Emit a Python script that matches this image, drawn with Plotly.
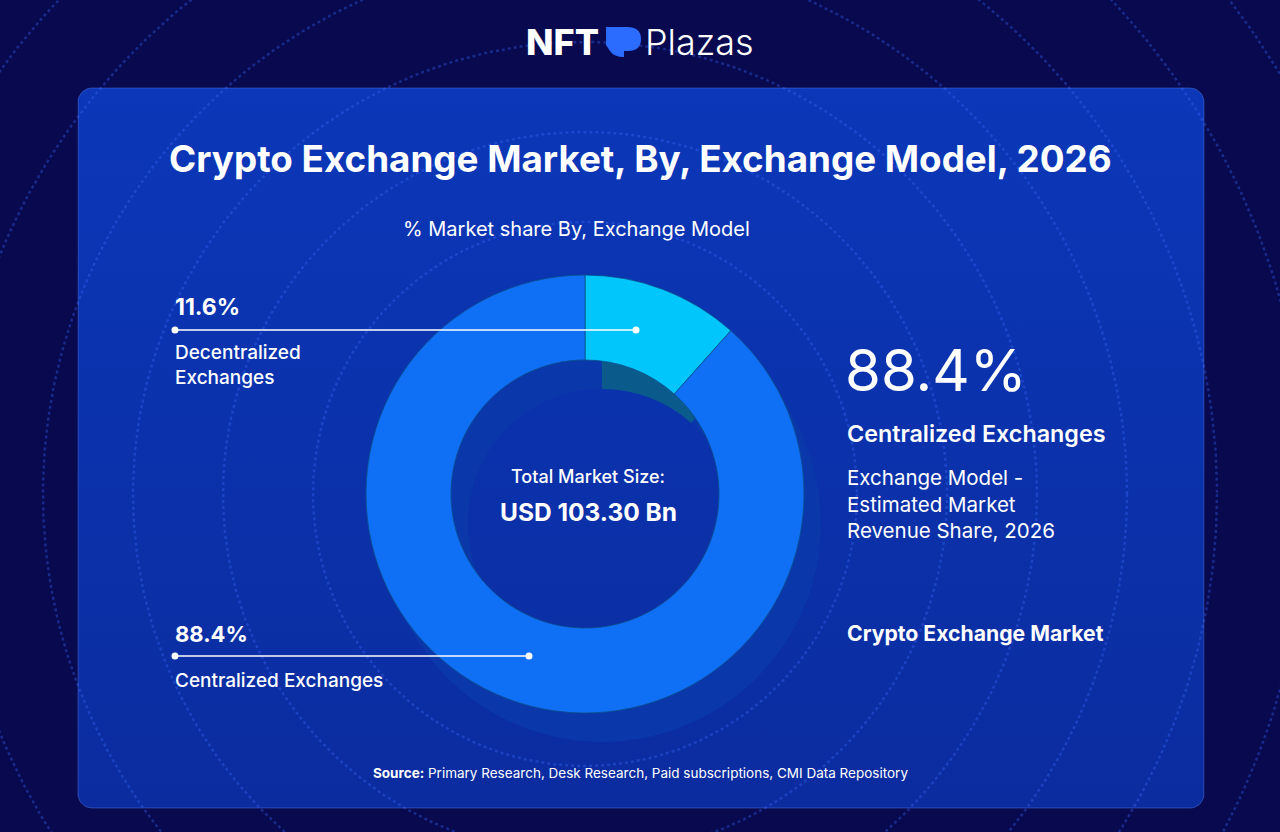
import numpy as np
import plotly.graph_objects as go

# ---- data ----
segments = ["Decentralized Exchanges", "Centralized Exchanges"]
shares = [11.6, 88.4]
total_size_bn = 103.30
year = 2026
slice_colors = ["#00c6fb", "#0f6ff5"]
depth_colors = ["#0b5a8c", "#0a37aa"]

W, H = 1280, 832
CX, CY, R = 585, 494, 219   # donut centre / radius in pixels
DX, DY = 17, 29             # extrusion offset
HOLE = 0.612

fig = go.Figure()

# card with vertical gradient
cx0, cy0, cx1, cy1, rr = 78, 88, 1204, 808, 14
t = np.linspace(0, np.pi / 2, 10)
px, py = [], []
for (ax, ay, a0) in [(cx1 - rr, cy0 + rr, -np.pi / 2), (cx1 - rr, cy1 - rr, 0),
                     (cx0 + rr, cy1 - rr, np.pi / 2), (cx0 + rr, cy0 + rr, np.pi)]:
    px += list(ax + rr * np.cos(a0 + t))
    py += list(ay + rr * np.sin(a0 + t))
px.append(px[0]); py.append(py[0])
fig.add_trace(go.Scatter(
    x=px, y=py, mode="lines", fill="toself",
    line=dict(color="rgba(110,150,255,0.35)", width=1),
    fillgradient=dict(type="vertical",
                      colorscale=[[0, "#0b2c9f"], [1, "#0b37b8"]]),
    hoverinfo="skip", showlegend=False))

# concentric dotted rings
ang = np.linspace(0, 2 * np.pi, 400)
for r in [272, 362, 452, 542, 632, 722, 812]:
    fig.add_trace(go.Scatter(
        x=CX + r * np.cos(ang), y=CY + r * np.sin(ang), mode="lines",
        line=dict(color="rgba(60,110,255,0.33)", width=2.5, dash="dot"),
        hoverinfo="skip", showlegend=False))

def dom(cx, cy, r):
    return dict(x=[(cx - r) / W, (cx + r) / W],
                y=[1 - (cy + r) / H, 1 - (cy - r) / H])

# extrusion (depth) ring
fig.add_trace(go.Pie(
    labels=segments, values=shares, hole=HOLE, sort=False,
    direction="clockwise", rotation=0, textinfo="none", hoverinfo="skip",
    marker=dict(colors=depth_colors, line=dict(width=0)),
    domain=dom(CX + DX, CY + DY, R), showlegend=False))
# main ring
fig.add_trace(go.Pie(
    labels=segments, values=shares, hole=HOLE, sort=False,
    direction="clockwise", rotation=0, textinfo="none", hoverinfo="skip",
    marker=dict(colors=slice_colors, line=dict(color="#0b4f8a", width=0.8)),
    domain=dom(CX, CY, R), showlegend=False))

F = "Inter"
ann = []
def A(x, y, text, size, weight=400, anchor="left", color="white"):
    ann.append(dict(x=x, y=y, xref="x", yref="y", text=text, showarrow=False,
                    xanchor=anchor, yanchor="middle", align=anchor,
                    font=dict(family=F, size=size, color=color, weight=weight)))

A(640, 158, "Crypto Exchange Market, By, Exchange Model, 2026", 36.8, 700, "center")
A(576, 229, "% Market share By, Exchange Model", 20, 400, "center")
A(173, 307, f"{shares[0]}%", 23, 700)
A(173, 365, "Decentralized<br>Exchanges", 19, 500)
A(173, 634, f"{shares[1]}%", 22, 700)
A(173, 680, segments[1], 19, 500)
A(843, 370, f"{shares[1]}%", 58, 400)
A(845, 433, segments[1], 23.3, 600)
A(845, 504, f"Exchange Model -<br>Estimated Market<br>Revenue Share, {year}", 20.5, 400)
A(845, 633, "Crypto Exchange Market", 21.2, 700)
A(CX + 3, 476, "Total Market Size:", 18, 500, "center")
A(CX + 3, 512, f"USD {total_size_bn:.2f} Bn", 24.5, 700, "center")
A(640, 773, "<b>Source:</b> Primary Research, Desk Research, Paid subscriptions, CMI Data Repository",
  13.5, 400, "center")
# logo
A(601, 42, "NFT", 36, 800, "right")
A(643, 42, "Plazas", 36, 300, "left")

logo_path = ("M606,27 L627,27 Q641,27 641,39 Q641,51 628,51 L624,51 L624,57 "
             "Q614,57 610,51 L606,45 Z")

shapes = [dict(type="path", path=logo_path, xref="x", yref="y",
               fillcolor="#2b6cff", line=dict(width=0), layer="above")]
# leader lines with end dots (drawn above the donut)
for (x0, x1, y) in [(175, 636, 330), (175, 529, 656)]:
    shapes.append(dict(type="line", x0=x0, x1=x1, y0=y, y1=y, xref="x", yref="y",
                       line=dict(color="white", width=1.5), layer="above"))
    for xd in (x0, x1):
        shapes.append(dict(type="circle", x0=xd - 3.5, x1=xd + 3.5, y0=y - 3.5, y1=y + 3.5,
                           xref="x", yref="y", fillcolor="white",
                           line=dict(width=0), layer="above"))

fig.update_layout(
    width=W, height=H, margin=dict(l=0, r=0, t=0, b=0),
    paper_bgcolor="#08094f", plot_bgcolor="rgba(0,0,0,0)",
    xaxis=dict(range=[0, W], visible=False, fixedrange=True),
    yaxis=dict(range=[H, 0], visible=False, fixedrange=True),
    annotations=ann, shapes=shapes,
)

fig.write_html("out.html", config={"displayModeBar": False},
               post_script="document.body.style.margin='0';document.body.style.background='#08094f';")
